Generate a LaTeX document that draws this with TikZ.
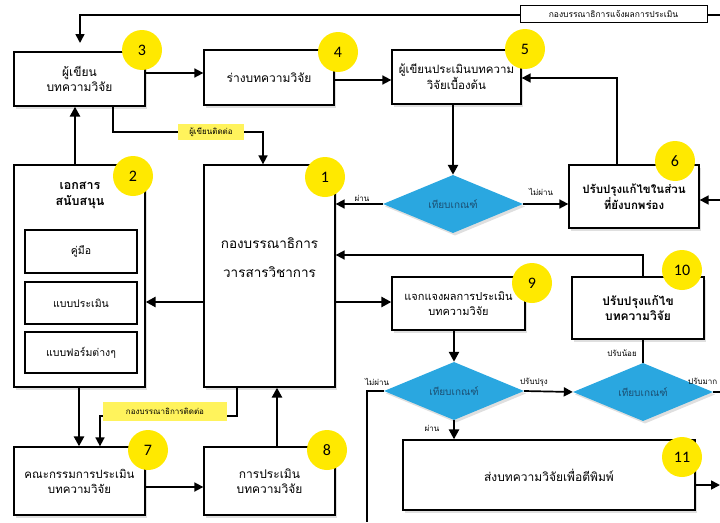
\documentclass[tikz,border=0pt]{standalone}
\usepackage{fontspec}
\setmainfont{Loma}[Script=Thai]
\newfontfamily\numfont{Carlito}
\usetikzlibrary{arrows.meta,shapes.geometric,shadows,calc}
\definecolor{ycirc}{HTML}{FFE900}
\definecolor{ylab}{HTML}{FFF35C}
\definecolor{dia}{HTML}{2AA7E0}
\definecolor{diatext}{HTML}{1B4F72}
\tikzset{
 box/.style={draw, line width=1.3pt, fill=white, align=center, inner sep=2pt,
   font=\fontsize{12}{15}\selectfont,
   drop shadow={opacity=0.25,shadow xshift=2pt,shadow yshift=-2.5pt}},
 inbox/.style={draw, line width=1.1pt, fill=white, minimum width=112pt, font=\fontsize{10.5}{12}\selectfont},
 num/.style={circle, fill=ycirc, minimum size=40pt, inner sep=0pt, font=\numfont\fontsize{16}{16}\selectfont},
 dec/.style={diamond, fill=dia, minimum width=140pt, minimum height=47pt, inner sep=0pt,
   text=diatext, font=\fontsize{10}{11}\selectfont,
   drop shadow={opacity=0.25,shadow xshift=2pt,shadow yshift=-2.5pt}},
 lab/.style={fill=ylab, font=\fontsize{8}{9}\selectfont, inner sep=1pt},
 tag/.style={font=\fontsize{8}{9}\selectfont, inner sep=1pt},
 thk/.style={line width=2.6pt, -{Triangle[length=10pt,width=10pt]}},
 med/.style={line width=1.7pt, -{Triangle[length=9pt,width=9pt]}},
 ln/.style={line width=1.7pt},
}
\begin{document}
\begin{tikzpicture}[x=1pt,y=-1pt]
\useasboundingbox (0,0) rectangle (720,522);
% boxes
\node[box, minimum width=131pt, minimum height=54pt] (b3) at (79.5,79) {ผู้เขียน\\บทความวิจัย};
\node[box, minimum width=130pt, minimum height=55pt] (b4) at (269,77.5) {ร่างบทความวิจัย};
\node[box, minimum width=129pt, minimum height=54pt, font=\fontsize{11.5}{15}\selectfont] (b5) at (456.5,77) {ผู้เขียนประเมินบทความ\\วิจัยเบื้องต้น};
\node[box, minimum width=130pt, minimum height=63pt, font=\bfseries\fontsize{11.5}{14}\selectfont] (b6) at (634,196.5) {ปรับปรุงแก้ไขในส่วน\\ที่ยังบกพร่อง};
\node[box, minimum width=131pt, minimum height=222pt] (b2) at (79.5,276) {};
\node[font=\bfseries\fontsize{12.5}{16}\selectfont, align=center] (b2t) at (80,195) {เอกสาร\\สนับสนุน};
\node[inbox, minimum height=43pt] (i1) at (81,251.5) {คู่มือ};
\node[inbox, minimum height=42pt] (i2) at (81,303) {แบบประเมิน};
\node[inbox, minimum height=41pt] (i3) at (81,352.5) {แบบฟอร์มต่างๆ};
\node[box, minimum width=131pt, minimum height=222pt] (b1) at (269.5,276) {};
\node[font=\fontsize{13.5}{29}\selectfont, align=center] (b1t) at (269.5,258) {กองบรรณาธิการ\\วารสารวิชาการ};
\node[box, minimum width=133pt, minimum height=53pt, font=\fontsize{11}{15}\selectfont] (b9) at (458.5,303.5) {แจกแจงผลการประเมิน\\บทความวิจัย};
\node[box, minimum width=132pt, minimum height=62pt, font=\bfseries\fontsize{12}{15}\selectfont] (b10) at (638,308) {ปรับปรุงแก้ไข\\บทความวิจัย};
\node[box, minimum width=292pt, minimum height=70pt, font=\fontsize{12}{14}\selectfont] (b11) at (549,475) {ส่งบทความวิจัยเพื่อตีพิมพ์};
\node[box, minimum width=131pt, minimum height=68pt, font=\fontsize{11.5}{15}\selectfont] (b7) at (79.5,481) {คณะกรรมการประเมิน\\บทความวิจัย};
\node[box, minimum width=131pt, minimum height=68pt] (b8) at (269.5,481) {การประเมิน\\บทความวิจัย};
% decisions
\node[dec] (d1) at (453,204) {เทียบเกณฑ์};
\node[dec] (d2) at (454,391) {เทียบเกณฑ์};
\node[dec] (d3) at (643,392) {เทียบเกณฑ์};
% numbers
\node[num] (n1) at (325,177) {1};
\node[num] (n2) at (133,176) {2};
\node[num] (n3) at (142,50) {3};
\node[num] (n4) at (338,52) {4};
\node[num] (n5) at (525,49) {5};
\node[num] (n6) at (675,161) {6};
\node[num] (n7) at (148,450) {7};
\node[num] (n8) at (327,450) {8};
\node[num] (n9) at (532,283) {9};
\node[num] (n10) at (682,270) {10};
\node[num] (n11) at (682,457) {11};
% top feedback line
\coordinate (topR) at (720,15);
\coordinate (topL) at (80,15);
\coordinate (topE) at (80,43);
\draw[med] (topR) -- (topL) -- (topE);
\node[draw, line width=1pt, fill=white, minimum width=187pt, minimum height=17pt, inner sep=0pt, font=\fontsize{8.5}{9}\selectfont] (lt) at (613.5,14) {กองบรรณาธิการแจ้งผลการประเมิน};
% connectors top row
\draw[med] (b3.east |- 0,73) -- (b4.west |- 0,73);
\draw[med] (b4.east |- 0,80) -- (b5.west |- 0,80);
\draw[med] (b6.north -| 617,0) -- (617,78) -- (b5.east |- 0,78);
\draw[thk] (d1.north |- b5.south) -- (d1.north);
\draw[med] (d1.west) -- (b1.east |- d1.west);
\node[tag] (t1) at (362,198) {ผ่าน};
\draw[med] (d1.east) -- (b6.west |- d1.east);
\node[tag] (t2) at (541,192) {ไม่ผ่าน};
\coordinate (r6) at (720,200);
\draw[med] (r6) -- (b6.east |- r6);
% author contact
\node[lab, minimum width=66pt, minimum height=16pt] (l1) at (211,132) {ผู้เขียนติดต่อ};
\draw[ln] (b3.south -| 113,0) -- (113,132) -- (l1.west);
\draw[med] (l1.east) -- (263,132) -- (b1.north -| 263,0);
% left column
\draw[thk] (b2.north -| 75,0) -- (b3.south -| 75,0);
\draw[thk] (b1.west |- 0,302) -- (b2.east |- 0,302);
\draw[thk] (b1.east |- 0,302) -- (b9.west |- 0,302);
\draw[med] (b10.north -| 643,0) -- (643,255) -- (b1.east |- 0,255);
% lower right
\draw[thk] (d2.north |- b9.south) -- (d2.north);
\draw[ln] (d3.north |- b10.south) -- (d3.north);
\node[tag] (t3) at (622,353) {ปรับน้อย};
\draw[med] (d2.east) -- (d3.west);
\node[tag] (t4) at (534,382) {ปรับปรุง};
\coordinate (r3) at (720,392);
\draw[ln] (d3.east) -- (r3);
\node[tag, anchor=west] (t5) at (687,381) {ปรับมาก};
\coordinate (c1) at (367,391);
\coordinate (c2) at (367,522);
\draw[ln] (d2.west) -- (c1) -- (c2);
\node[tag] (t6) at (377,382) {ไม่ผ่าน};
\draw[thk] (d2.south) -- (b11.north -| d2.south);
\node[tag] (t7) at (432,428) {ผ่าน};
\coordinate (r11) at (720,485);
\draw[med] (b11.east |- r11) -- (r11);
% bottom left
\draw[med] (b7.east |- 0,487) -- (b8.west |- 0,487);
\draw[thk] (b8.north -| 277,0) -- (b1.south -| 277,0);
\draw[thk] (b2.south -| 79,0) -- (b7.north -| 79,0);
\node[lab, minimum width=124pt, minimum height=19pt] (l2) at (165,411.5) {กองบรรณาธิการติดต่อ};
\draw[ln] (b1.south -| 237,0) -- (237,416) -- (l2.east |- 0,416);
\draw[med] (l2.west |- 0,416) -- (100,416) -- (b7.north -| 100,0);
\end{tikzpicture}
\end{document}
